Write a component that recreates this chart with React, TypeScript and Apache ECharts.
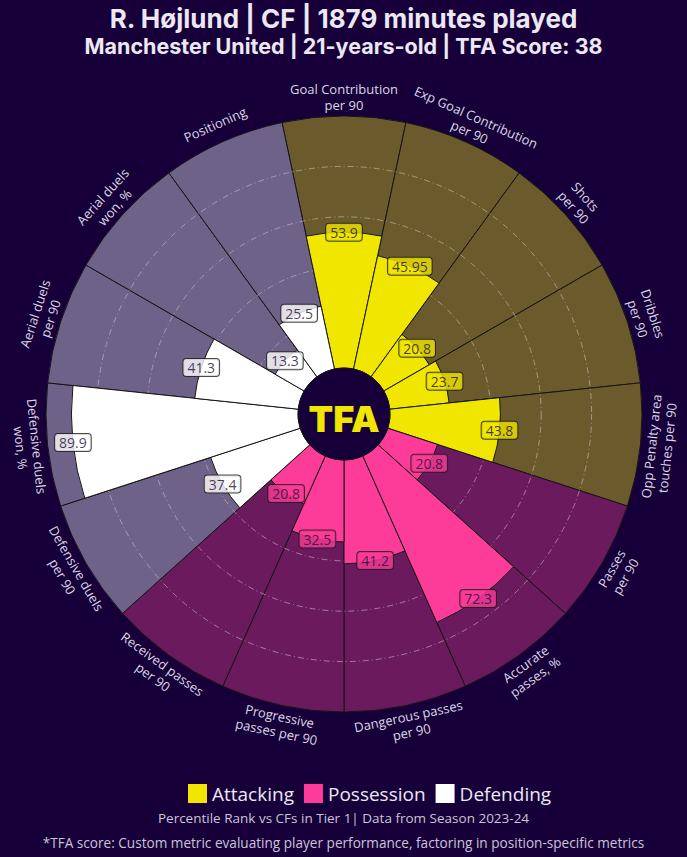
import React, { useEffect, useRef } from 'react';
import * as echarts from 'echarts';

const categories = [
  'Goal Contribution\nper 90',
  'Exp Goal Contribution\nper 90',
  'Shots\nper 90',
  'Dribbles\nper 90',
  'Opp Penalty area\ntouches per 90',
  'Passes\nper 90',
  'Accurate\npasses, %',
  'Dangerous passes\nper 90',
  'Progressive\npasses per 90',
  'Received passes\nper 90',
  'Defensive duels\nper 90',
  'Defensive duels\nwon, %',
  'Aerial duels\nper 90',
  'Aerial duels\nwon, %',
  'Positioning',
];
const groups = [
  'Attacking', 'Attacking', 'Attacking', 'Attacking', 'Attacking',
  'Possession', 'Possession', 'Possession', 'Possession', 'Possession',
  'Defending', 'Defending', 'Defending', 'Defending', 'Defending',
];
const values = [53.9, 45.95, 20.8, 23.7, 43.8, 20.8, 72.3, 41.2, 32.5, 20.8, 37.4, 89.9, 41.3, 13.3, 25.5];
const groupNames = ['Attacking', 'Possession', 'Defending'];
const maxValue = 100;
const labelRadiusValue = 107.5;

const barColors: Record<string, string> = {
  Attacking: '#f1e600',
  Possession: '#fd3b98',
  Defending: '#ffffff',
};
const bgColors: Record<string, string> = {
  Attacking: '#6b5b2c',
  Possession: '#6b1a5d',
  Defending: '#6f6289',
};

const BG = '#170039';
const CX = 344;
const CY = 414;
const R0 = 46;
const R1 = 298;

function labelRotation(i: number) {
  let t = 90 - 24 * i;
  while (t <= -180) t += 360;
  while (t > 180) t -= 360;
  return t >= 0 ? t - 90 : t + 90;
}

export default function App() {
  const ref = useRef<HTMLDivElement>(null);
  useEffect(() => {
    if (!ref.current) return;
    const chart = echarts.init(ref.current, undefined, { renderer: 'svg' });
    const border = '#161616';
    const barSeries = groupNames.map((g) => ({
      name: g,
      type: 'bar',
      coordinateSystem: 'polar',
      data: values.map((v, i) => (groups[i] === g ? v : '-')),
      barCategoryGap: '0%',
      barGap: '-100%',
      z: 5,
      itemStyle: { color: barColors[g], borderColor: border, borderWidth: 1 },
      silent: true,
    }));
    const option: any = {
      animation: false,
      backgroundColor: BG,
      title: [
        {
          text: 'R. Højlund | CF | 1879 minutes played',
          subtext: 'Manchester United | 21-years-old | TFA Score: 38',
          left: 'center',
          top: 5,
          padding: 0,
          itemGap: 4,
          textStyle: { color: '#ece8f3', fontSize: 26, fontWeight: 'bold', fontFamily: 'Inter' },
          subtextStyle: { color: '#ece8f3', fontSize: 21.5, fontWeight: 'bold', fontFamily: 'Inter' },
        },
        {
          text: 'Percentile Rank vs CFs in Tier 1| Data from Season 2023-24',
          left: 'center',
          top: 811,
          padding: 0,
          textStyle: { color: '#cbc4d8', fontSize: 13.5, fontWeight: 'normal', fontFamily: 'Open Sans' },
        },
        {
          text: '*TFA score: Custom metric evaluating player performance, factoring in position-specific metrics',
          left: 'center',
          top: 835,
          padding: 0,
          textStyle: { color: '#cbc4d8', fontSize: 13.6, fontWeight: 'normal', fontFamily: 'Open Sans' },
        },
      ],
      legend: {
        data: groupNames,
        left: 188,
        top: 784,
        icon: 'rect',
        itemWidth: 19,
        itemHeight: 19,
        itemGap: 10,
        padding: 0,
        itemStyle: { borderWidth: 0 },
        textStyle: { color: '#ece8f3', fontSize: 19, fontFamily: 'Open Sans' },
        selectedMode: false,
      },
      polar: { center: [CX, CY], radius: [R0, R1] },
      angleAxis: {
        type: 'category',
        data: categories,
        startAngle: 102,
        clockwise: true,
        boundaryGap: true,
        axisLine: { show: false },
        axisTick: { show: false },
        axisLabel: { show: false },
        splitLine: { show: false },
      },
      radiusAxis: {
        type: 'value',
        min: 0,
        max: maxValue,
        interval: 20,
        z: 3,
        axisLine: { show: false },
        axisTick: { show: false },
        axisLabel: { show: false },
        splitLine: {
          show: true,
          lineStyle: {
            color: [
              'rgba(0,0,0,0)',
              'rgba(205,200,210,0.55)',
              'rgba(205,200,210,0.55)',
              'rgba(205,200,210,0.55)',
              'rgba(205,200,210,0.55)',
              'rgba(0,0,0,0)',
            ],
            type: [6, 3, 1, 3],
            width: 1,
          },
        },
      },
      series: [
        {
          name: 'background',
          type: 'bar',
          coordinateSystem: 'polar',
          data: categories.map((_, i) => ({
            value: maxValue,
            itemStyle: { color: bgColors[groups[i]] },
          })),
          barCategoryGap: '0%',
          barGap: '-100%',
          z: 1,
          silent: true,
          itemStyle: { borderColor: border, borderWidth: 1 },
        },
        ...barSeries,
        {
          name: 'values',
          type: 'scatter',
          coordinateSystem: 'polar',
          symbolSize: 1,
          z: 8,
          silent: true,
          itemStyle: { color: 'rgba(0,0,0,0)' },
          data: values.map((v, i) => ({
            value: [v, i],
            label: { backgroundColor: barColors[groups[i]] },
          })),
          label: {
            show: true,
            position: 'inside',
            formatter: (p: any) => String(values[p.dataIndex]),
            color: '#1b1030',
            fontSize: 14,
            fontFamily: 'Open Sans',
            borderColor: '#1b1b1b',
            borderWidth: 1,
            borderRadius: 3,
            padding: [2, 4, 1, 4],
          },
        },
        {
          name: 'names',
          type: 'custom',
          coordinateSystem: 'polar',
          silent: true,
          z: 8,
          data: categories.map((_, i) => [labelRadiusValue, i]),
          renderItem: (params: any, api: any) => {
            const i = params.dataIndex;
            const pt = api.coord([labelRadiusValue, i]);
            return {
              type: 'text',
              x: pt[0],
              y: pt[1],
              rotation: (labelRotation(i) * Math.PI) / 180,
              style: {
                text: categories[i],
                fill: '#dcd6e6',
                fontSize: 13,
                fontFamily: 'Open Sans',
                lineHeight: 16,
                align: 'center',
                verticalAlign: 'middle',
              },
            };
          },
        },
      ],
      graphic: [
        {
          type: 'circle',
          z: 20,
          shape: { cx: CX, cy: CY, r: R0 },
          style: { fill: BG, stroke: border, lineWidth: 1 },
        },
        {
          type: 'text',
          z: 21,
          x: CX,
          y: CY + 5,
          style: {
            text: 'TFA',
            fill: '#f1e600',
            font: '900 36px Inter',
            align: 'center',
            verticalAlign: 'middle',
          },
        },
      ],
    };
    chart.setOption(option);
    return () => chart.dispose();
  }, []);
  return (
    <div
      ref={ref}
      style={{ position: 'fixed', left: 0, top: 0, width: 687, height: 857 }}
    />
  );
}
